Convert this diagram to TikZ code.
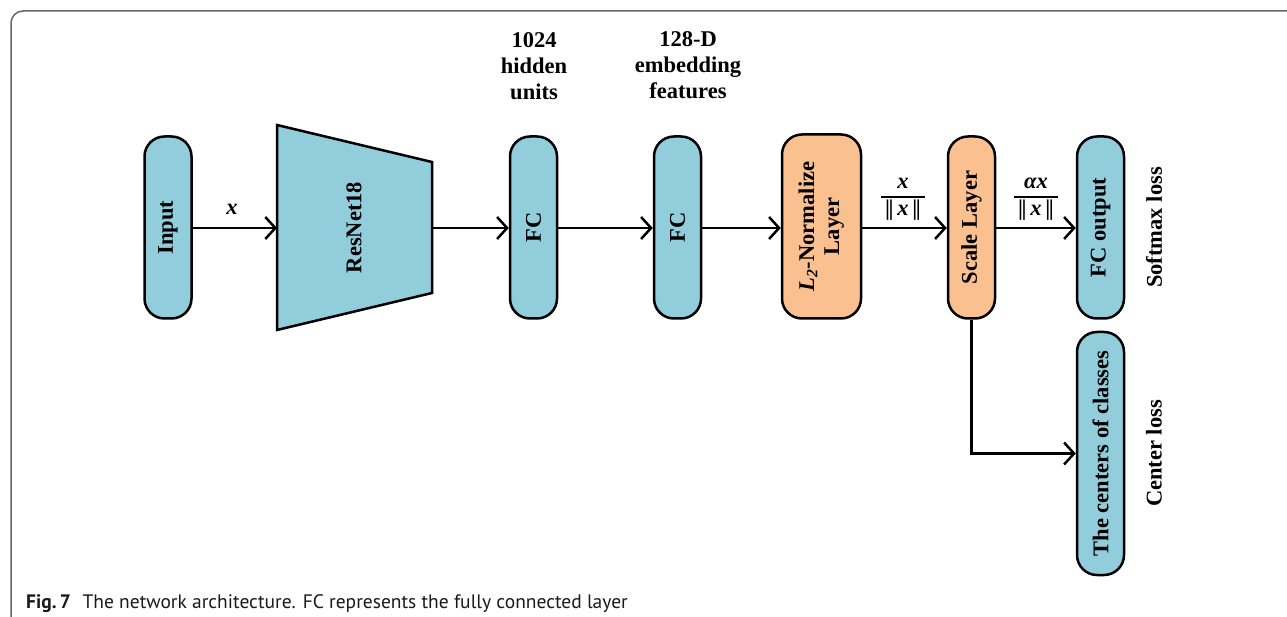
\documentclass[tikz,border=0pt]{standalone}
\usepackage{fontspec}
\setmainfont{Liberation Serif}
\newfontfamily\capfont{PT Sans}
\usepackage{graphicx}
\usetikzlibrary{arrows.meta}
\definecolor{cblue}{HTML}{92CDDC}
\definecolor{corange}{HTML}{FAC090}
\definecolor{framegray}{HTML}{666666}
\tikzset{
  lbl/.style={font=\fontsize{22.5}{26}\selectfont\bfseries, inner sep=0pt, align=center},
  blk/.style={draw=black, line width=2.5pt, rounded corners=20pt, inner sep=0pt,
              font=\fontsize{22.5}{25}\selectfont\bfseries},
  bluebox/.style={blk, fill=cblue, minimum width=47pt, minimum height=182pt},
  orangebox/.style={blk, fill=corange, minimum width=47pt, minimum height=182pt},
  arr/.style={line width=2.5pt, -{Straight Barb[length=10pt,width=22pt,line width=2.5pt]}},
}
\begin{document}
\begin{tikzpicture}[x=1pt,y=-1pt]
\useasboundingbox (0,0) rectangle (1287,617);
% frame
\draw[framegray, line width=1.5pt, rounded corners=12pt] (11,617) -- (11,11) -- (1287,11);

% nodes
\node[bluebox] (input) at (168,227.5) {\rotatebox{90}{Input}};
\draw[line width=2.5pt, fill=cblue] (277,125) -- (432,162) -- (432,293) -- (277,330) -- cycle;
\node[lbl] (res) at (354,227.5) {\rotatebox{90}{ResNet18}};
\coordinate (resL) at (277,228);
\coordinate (resR) at (432,228);
\node[bluebox] (fc1) at (533.5,227.5) {\rotatebox{90}{FC}};
\node[bluebox] (fc2) at (677.5,227.5) {\rotatebox{90}{FC}};
\node[orangebox, minimum width=79pt, minimum height=184pt] (l2) at (821.5,226.5)
  {\rotatebox{90}{\begin{tabular}{@{}c@{}}\textit{L\textsubscript{2}}-Normalize\\Layer\end{tabular}}};
\node[orangebox] (scale) at (971.5,227.5) {\rotatebox{90}{Scale Layer}};
\node[bluebox] (fcout) at (1100.5,227.5) {\rotatebox{90}{FC output}};
\node[bluebox, minimum height=243pt] (centers) at (1100.5,453.5) {\rotatebox{90}{The centers of classes}};

% labels
\node[lbl] (hid) at (534,66) {1024\\hidden\\units};
\node[lbl] (emb) at (688,65) {128-D\\embedding\\features};
\node[lbl] (xl) at (232,209) {\textit{x}};
\node[lbl] (soft) at (1154,227.5) {\rotatebox{90}{Softmax loss}};
\node[lbl] (closs) at (1154,453.5) {\rotatebox{90}{Center loss}};
\node[lbl] (fr1) at (903,197) {\setlength{\arrayrulewidth}{1.5pt}\renewcommand\arraystretch{0.95}%
  \begin{tabular}{@{\,}c@{\,}}\textit{x}\\\hline |\kern-1.5pt|\,\textit{x}\,|\kern-1.5pt|\end{tabular}};
\node[lbl] (fr2) at (1036,197) {\setlength{\arrayrulewidth}{1.5pt}\renewcommand\arraystretch{0.95}%
  \begin{tabular}{@{\,}c@{\,}}\textit{αx}\\\hline |\kern-1.5pt|\,\textit{x}\,|\kern-1.5pt|\end{tabular}};

% connectors
\draw[arr] (input.east |- 0,228) -- (resL);
\draw[arr] (resR) -- (fc1.west |- resR);
\draw[arr] (fc1.east |- resR) -- (fc2.west |- resR);
\draw[arr] (fc2.east |- resR) -- (l2.west |- resR);
\draw[arr] (l2.east |- resR) -- (scale.west |- resR);
\draw[arr] (scale.east |- resR) -- (fcout.west |- resR);
\draw[arr] (scale.south) |- (centers.west);

% caption
\node[anchor=base west, inner sep=0pt, text=black!90, font=\capfont\fontsize{19.5}{22}\selectfont] (cap) at (26,608)
  {\textbf{Fig.\,7}\hspace{0.6em}The network architecture. FC represents the fully connected layer};
\end{tikzpicture}
\end{document}
